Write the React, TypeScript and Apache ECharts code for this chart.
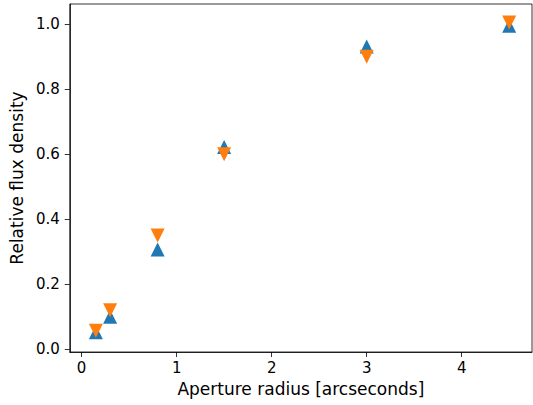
import React, { useEffect, useRef } from "react";
import * as echarts from "echarts";

const radii = [0.15, 0.3, 0.8, 1.5, 3.0, 4.5];
const blueFlux = [0.053, 0.1, 0.307, 0.622, 0.931, 0.995];
const orangeFlux = [0.057, 0.12, 0.35, 0.6, 0.9, 1.005];
const xTicks = [0, 1, 2, 3, 4];
const yTicks = [0, 0.2, 0.4, 0.6, 0.8, 1.0];

export default function App() {
  const ref = useRef<HTMLDivElement>(null);
  useEffect(() => {
    if (!ref.current) return;
    const chart = echarts.init(ref.current, null, { renderer: "svg" });
    const font = "DejaVu Sans";
    chart.setOption({
      animation: false,
      backgroundColor: "#fff",
      textStyle: { fontFamily: font },
      grid: {
        left: 68,
        right: 1,
        top: 4,
        bottom: 53,
        show: true,
        borderColor: "#000",
        borderWidth: 0.8,
        backgroundColor: "transparent",
      },
      xAxis: {
        type: "value",
        min: -0.125,
        max: 4.74,
        name: "Aperture radius [arcseconds]",
        nameLocation: "middle",
        nameGap: 28,
        nameTextStyle: { fontSize: 17, color: "#000", fontFamily: font },
        axisLine: { show: true, onZero: false, lineStyle: { color: "#000", width: 0.8 } },
        axisTick: { show: true, length: 5, customValues: xTicks, lineStyle: { color: "#000", width: 0.8 } },
        axisLabel: {
          customValues: xTicks,
          fontSize: 15,
          color: "#000",
          margin: 8,
          fontFamily: font,
          formatter: (v: number) => String(v),
        },
        splitLine: { show: false },
      },
      yAxis: {
        type: "value",
        min: -0.008,
        max: 1.062,
        name: "Relative flux density",
        nameLocation: "middle",
        nameGap: 39,
        nameRotate: 90,
        nameTextStyle: { fontSize: 17, color: "#000", fontFamily: font },
        axisLine: { show: true, onZero: false, lineStyle: { color: "#000", width: 0.8 } },
        axisTick: { show: true, length: 5, customValues: yTicks, lineStyle: { color: "#000", width: 0.8 } },
        axisLabel: {
          customValues: yTicks,
          fontSize: 15,
          color: "#000",
          margin: 10,
          fontFamily: font,
          formatter: (v: number) => v.toFixed(1),
        },
        splitLine: { show: false },
      },
      series: [
        {
          type: "scatter",
          symbol: "triangle",
          symbolSize: 14,
          itemStyle: { color: "#1f77b4", opacity: 1 },
          data: radii.map((r, i) => [r, blueFlux[i]]),
          z: 2,
        },
        {
          type: "scatter",
          symbol: "triangle",
          symbolRotate: 180,
          symbolSize: 14,
          itemStyle: { color: "#ff7f0e", opacity: 1 },
          data: radii.map((r, i) => [r, orangeFlux[i]]),
          z: 3,
        },
      ],
    });
    return () => chart.dispose();
  }, []);
  return <div ref={ref} style={{ width: 533, height: 405, position: "absolute", left: 0, top: 0 }} />;
}
